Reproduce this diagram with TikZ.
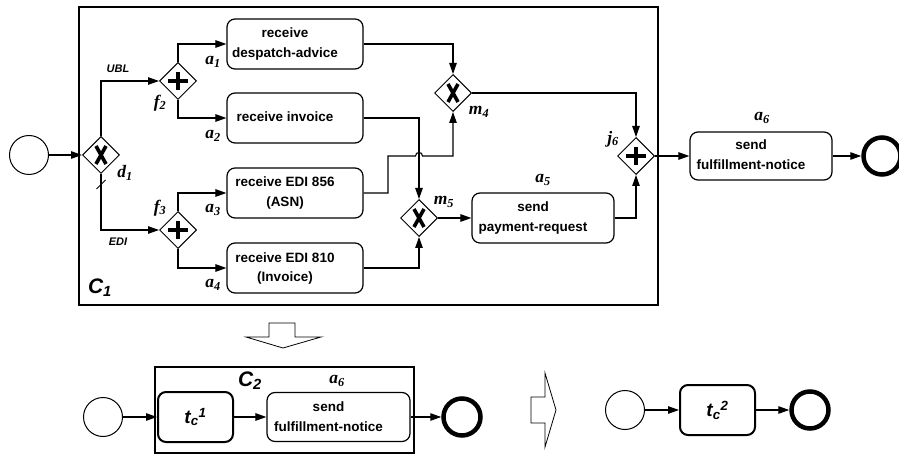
\documentclass[tikz,border=0pt]{standalone}
\usepackage{fontspec}
\setmainfont{Liberation Sans}
\newfontfamily\labfont{Liberation Serif}
\usetikzlibrary{arrows.meta,shapes.geometric,calc}
\tikzset{
	flow/.style={-{Triangle[length=11pt,width=7.5pt]}, line width=1.1pt},
	act/.style={draw, rounded corners=8pt, line width=1.2pt, minimum width=136pt, minimum height=50pt, inner sep=0pt, font=\fontsize{13.5pt}{20pt}\selectfont\bfseries},
	tsub/.style={draw, rounded corners=8pt, line width=2pt, minimum width=75pt, minimum height=50pt, inner sep=0pt, font=\fontsize{19pt}{22pt}\selectfont\bfseries\itshape},
	gate/.style={diamond, draw, line width=1pt, minimum width=37pt, minimum height=37pt, inner sep=0pt},
	xorgate/.style={gate, path picture={
			\draw[line width=3.6pt] ([shift={(-5pt,-9pt)}]path picture bounding box.center) -- ([shift={(5pt,9pt)}]path picture bounding box.center);
			\draw[line width=3.6pt] ([shift={(-5pt,9pt)}]path picture bounding box.center) -- ([shift={(5pt,-9pt)}]path picture bounding box.center);}},
	andgate/.style={gate, path picture={
			\draw[line width=4pt] ([xshift=-10pt]path picture bounding box.center) -- ([xshift=10pt]path picture bounding box.center);
			\draw[line width=4pt] ([yshift=-9pt]path picture bounding box.center) -- ([yshift=9pt]path picture bounding box.center);}},
	startev/.style={circle, draw, line width=1pt, minimum size=39pt, inner sep=0pt},
	endev/.style={circle, draw, line width=4.5pt, minimum size=37pt, inner sep=0pt},
	lbl/.style={inner sep=0pt, font=\fontsize{17.5pt}{17.5pt}\selectfont},
	cond/.style={inner sep=0pt, font=\fontsize{11pt}{11pt}\selectfont\bfseries\itshape},
	ctitle/.style={inner sep=0pt, font=\fontsize{21pt}{21pt}\selectfont\bfseries\itshape},
	hollow/.style={draw, line width=0.8pt, fill=white}
}
\newcommand{\lab}[2]{{\labfont\bfseries\itshape #1\textsubscript{#2}}}
\newcommand{\acttext}[1]{\begin{tabular}{@{}c@{\hspace{20pt}}}#1\end{tabular}}

\begin{document}
\begin{tikzpicture}[x=1pt, y=-1pt]
	\useasboundingbox (0,0) rectangle (899,454);
	% container C1
	\draw[line width=2pt] (79,7) rectangle (658,305);
	\node[ctitle] (c1) at (100,288) {C\textsubscript{1}};
	
	\node[startev] (s1) at (29,155) {};
	\node[xorgate] (d1) at (101,155) {};
	\node[andgate] (f2) at (178,81) {};
	\node[andgate] (f3) at (178,230) {};
	\node[act] (a1) at (295,44) {\acttext{receive\\despatch-advice}};
	\node[act] (a2) at (295,118) {\acttext{receive invoice}};
	\node[act] (a3) at (295,193) {\acttext{receive EDI 856\\(ASN)}};
	\node[act] (a4) at (295,268) {\acttext{receive EDI 810\\(Invoice)}};
	\node[xorgate] (m4) at (453,93) {};
	\node[xorgate] (m5) at (419,218) {};
	\node[act, minimum width=142pt] (a5) at (543,218) {\acttext{send\\payment-request}};
	\node[andgate] (j6) at (636,156) {};
	\node[act, minimum width=142pt, minimum height=48pt] (a6) at (761,156) {\acttext{send\\fulfillment-notice}};
	\node[endev] (e1) at (882,156) {};
	
	\node[cond] (ubl) at (118,69) {UBL};
	\node[cond] (edi) at (118,242) {EDI};
	\node[lbl] (ld1) at (125,173) {\lab{d}{1}};
	\node[lbl] (lf2) at (160,103) {\lab{f}{2}};
	\node[lbl] (lf3) at (160,208) {\lab{f}{3}};
	\node[lbl] (la1) at (213,62) {\lab{a}{1}};
	\node[lbl] (la2) at (213,136) {\lab{a}{2}};
	\node[lbl] (la3) at (213,210) {\lab{a}{3}};
	\node[lbl] (la4) at (213,285) {\lab{a}{4}};
	\node[lbl] (lm4) at (479,112) {\lab{m}{4}};
	\node[lbl] (lm5) at (444,202) {\lab{m}{5}};
	\node[lbl] (la5) at (543,180) {\lab{a}{5}};
	\node[lbl] (lj6) at (613,139) {\lab{j}{6}};
	\node[lbl] (la6) at (762,118) {\lab{a}{6}};
	
	\draw[flow] (s1.east) -- (d1.west);
	\draw[flow] (d1.north) |- (f2.west);
	\draw[flow] (d1.south) |- (f3.west);
	\draw[line width=0.8pt] ([shift={(-4.5,15)}]d1.south) -- ([shift={(4.5,6)}]d1.south);
	\draw[flow] (f2.north) |- (a1.west);
	\draw[flow] (f2.south) |- (a2.west);
	\draw[flow] (f3.north) |- (a3.west);
	\draw[flow] (f3.south) |- (a4.west);
	\draw[flow] (a1.east) -| (m4.north);
	\draw[flow] (a2.east) -| (m5.north);
	\coordinate (k3) at (388,156);
	\coordinate (hop) at (m5 |- k3);
	\draw[flow] (a3.east) -| (k3) -- ([xshift=-3.5pt]hop) .. controls ([shift={(-3.5pt,4.7pt)}]hop) and ([shift={(3.5pt,4.7pt)}]hop) .. ([xshift=3.5pt]hop) -| (m4.south);
	\draw[flow] (a4.east) -| (m5.south);
	\draw[flow] (m4.east) -| (j6.north);
	\draw[flow] (m5.east) -- (a5.west);
	\draw[flow] (a5.east) -| (j6.south);
	\draw[flow] (j6.east) -- (a6.west);
	\draw[flow] (a6.east) -- (e1.west);
	
	% reduction steps
	\draw[hollow] (269,323) -- (295,323) -- (295,337) -- (321,337) -- (283,348) -- (246,337) -- (269,337) -- cycle;
	\draw[line width=1.5pt] (155,367) rectangle (414,453);
	\node[ctitle] (c2) at (250,381) {C\textsubscript{2}};
	\node[startev] (s2) at (103,417) {};
	\node[tsub] (tc1) at (195.5,417) {t\textsubscript{c}\textsuperscript{1}};
	\node[act, minimum width=143pt, minimum height=49pt] (b6) at (338.5,417) {\acttext{send\\fulfillment-notice}};
	\node[lbl] (lb6) at (337,381) {\lab{a}{6}};
	\node[endev] (e2) at (462,417) {};
	\draw[flow] (s2.east) -- (tc1.west);
	\draw[flow] (tc1.east) -- (b6.west);
	\draw[flow] (b6.east) -- (e2.west);
	
	\draw[hollow] (531,397) -- (545,397) -- (545,373) -- (556,410) -- (545,447) -- (545,423) -- (531,423) -- cycle;
	\node[startev] (s3) at (625,410) {};
	\node[tsub] (tc2) at (717.5,410) {t\textsubscript{c}\textsuperscript{2}};
	\node[endev] (e3) at (810,410) {};
	\draw[flow] (s3.east) -- (tc2.west);
	\draw[flow] (tc2.east) -- (e3.west);
\end{tikzpicture}
\end{document}
